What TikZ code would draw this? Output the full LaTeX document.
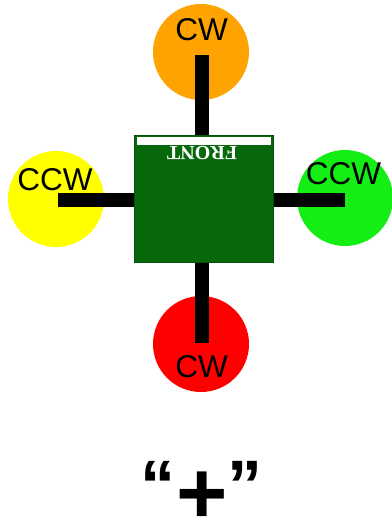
\documentclass[tikz,border=0pt]{standalone}
\usepackage{fontspec}
\setmainfont{Liberation Sans}
\newfontfamily\labelfont{Liberation Sans}
\newfontfamily\serifbold{Liberation Serif}[BoldFont={Liberation Serif Bold}]
\definecolor{rotororange}{RGB}{255,163,0}
\definecolor{rotoryellow}{RGB}{255,255,0}
\definecolor{rotorgreen}{RGB}{20,238,20}
\definecolor{rotorred}{RGB}{255,0,0}
\definecolor{bodygreen}{RGB}{6,104,10}
\tikzset{
  rotor/.style={circle, minimum size=96pt, inner sep=0pt, draw=none},
  arm/.style={line width=14pt, black, line cap=butt},
  dirlabel/.style={font=\labelfont\fontsize{31.5}{31.5}\selectfont, inner sep=0pt, text=black},
  frame/.style={rectangle, minimum width=139pt, minimum height=127pt, inner sep=0pt, fill=bodygreen, draw=bodygreen!80!black, line width=0.6pt},
  quotemark/.style={font=\labelfont\bfseries\fontsize{70}{70}\selectfont, inner sep=0pt}
}
\begin{document}
\begin{tikzpicture}[x=1pt,y=-1pt]
\useasboundingbox[fill=white] (0,0) rectangle (391,522);
% rotors
\node[rotor, fill=rotororange] (front) at (201,52) {};
\node[rotor, fill=rotoryellow] (left) at (56,199) {};
\node[rotor, fill=rotorgreen] (right) at (345,198) {};
\node[rotor, fill=rotorred] (rear) at (201,344) {};
% body centre coordinates for arms
\coordinate (hub) at (203.5,198.5);
\coordinate (vhub) at (202,198.5);
\coordinate (hhub) at (203.5,200);
\coordinate (topend) at (202,55);
\coordinate (botend) at (202,343);
\coordinate (leftend) at (58,200);
\coordinate (rightend) at (345,200);
% arms
\draw[arm] (vhub) -- (topend);
\draw[arm] (vhub) -- (botend);
\draw[arm] (hhub) -- (leftend);
\draw[arm] (hhub) -- (rightend);
% body
\node[frame] (body) at (hub) {};
\fill[white] ([shift={(3,2)}]body.north west) rectangle ([shift={(-2,10)}]body.north east);
\node[font=\serifbold\bfseries\fontsize{20}{20}\selectfont, text=white, rotate=180, inner sep=0pt] (fronttext) at (202,153.5) {FRONT};
% labels
\node[dirlabel] (lfront) at (201.5,29.5) {CW};
\node[dirlabel] (lleft) at (55,180) {CCW};
\node[dirlabel] (lright) at (343.5,174) {CCW};
\node[dirlabel] (lrear) at (201.5,366.5) {CW};
% caption
\node[quotemark] (qopen) at (158,485) {“};
\node[font=\labelfont\bfseries\fontsize{88}{88}\selectfont, inner sep=0pt] (plus) at (202,495.5) {\smash{\raisebox{-0.32em}{+}}};
\node[quotemark] (qclose) at (245,485) {”};
\end{tikzpicture}
\end{document}
